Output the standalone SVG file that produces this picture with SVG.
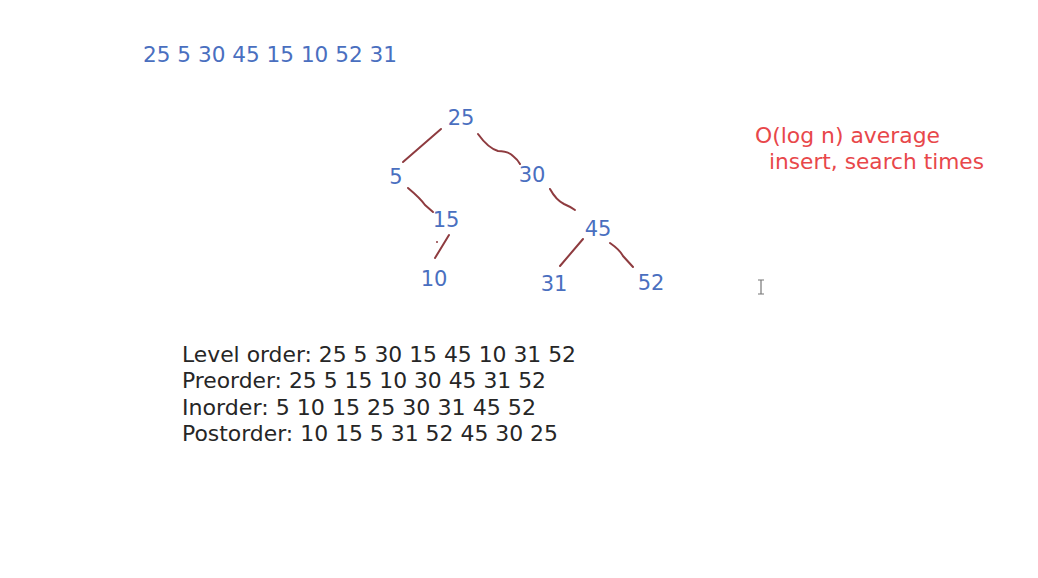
<svg xmlns="http://www.w3.org/2000/svg" width="1038" height="578" viewBox="0 0 1038 578">
<style>
.t{font-family:"DejaVu Sans","Liberation Sans",sans-serif;font-size:21px}
.b{fill:#4a6fbf}
.k{fill:#262626}
.r{fill:#e8474a}
.n{text-anchor:middle}
.e{fill:none;stroke:#8e3b3f;stroke-width:2;stroke-linecap:round;stroke-linejoin:round}
</style>
<rect width="1038" height="578" fill="#ffffff"/>
<text class="t b" x="143" y="62" textLength="254" lengthAdjust="spacingAndGlyphs">25 5 30 45 15 10 52 31</text>
<g id="connectors">
<path class="e" d="M441,129 L403,162"/>
<path class="e" d="M478,134 Q488,148 498,151 Q508,151 513,156 Q518,160 520,164"/>
<path class="e" d="M408,188 Q420,198 425,205 L433,212"/>
<path class="e" d="M449,235 L435,258"/>
<circle cx="437" cy="242" r="1" fill="#8e3b3f"/>
<path class="e" d="M550,189 Q556,200 564,204 Q571,207 575,210"/>
<path class="e" d="M583,239 L560,266"/>
<path class="e" d="M610,243 Q620,250 623,256 L633,267"/>
</g>
<g id="n25"><text class="t b n" x="461" y="125">25</text></g>
<g id="n5"><text class="t b n" x="396" y="184">5</text></g>
<g id="n30"><text class="t b n" x="532" y="182">30</text></g>
<g id="n15"><text class="t b n" x="446" y="227">15</text></g>
<g id="n45"><text class="t b n" x="598" y="236">45</text></g>
<g id="n10"><text class="t b n" x="434" y="286">10</text></g>
<g id="n31"><text class="t b n" x="554" y="291">31</text></g>
<g id="n52"><text class="t b n" x="651" y="290">52</text></g>
<g id="note">
<text class="t r" x="755" y="143" textLength="185" lengthAdjust="spacingAndGlyphs">O(log n) average</text>
<text class="t r" x="769" y="169" textLength="215" lengthAdjust="spacingAndGlyphs">insert, search times</text>
</g>
<g id="traversals">
<text class="t k" x="182" y="362" textLength="394" lengthAdjust="spacingAndGlyphs">Level order: 25 5 30 15 45 10 31 52</text>
<text class="t k" x="182" y="388" textLength="364" lengthAdjust="spacingAndGlyphs">Preorder: 25 5 15 10 30 45 31 52</text>
<text class="t k" x="182" y="415" textLength="354" lengthAdjust="spacingAndGlyphs">Inorder: 5 10 15 25 30 31 45 52</text>
<text class="t k" x="182" y="441" textLength="376" lengthAdjust="spacingAndGlyphs">Postorder: 10 15 5 31 52 45 30 25</text>
</g>
<g id="cursor" stroke="#777" stroke-width="1.2" fill="none">
<path d="M758,280 H764 M761,280 V294 M758,294 H764"/>
</g>
</svg>
